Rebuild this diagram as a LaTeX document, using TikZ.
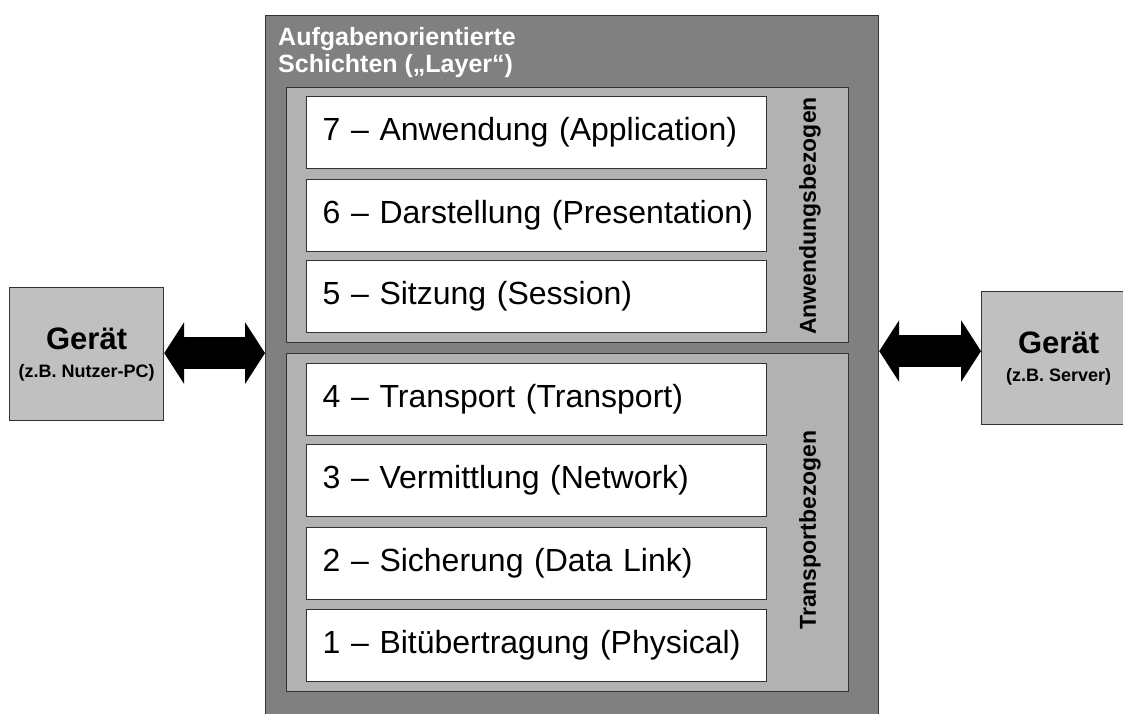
\documentclass[tikz,border=0pt]{standalone}
\usepackage{fontspec}
\setmainfont{Liberation Sans}
\usetikzlibrary{arrows.meta}

\definecolor{stackgray}{HTML}{808080}
\definecolor{groupgray}{HTML}{B2B2B2}
\definecolor{devicegray}{HTML}{C0C0C0}
\definecolor{edgegray}{HTML}{333333}

\tikzset{
  stackbox/.style={draw=edgegray, line width=1.2pt, fill=stackgray, anchor=north west,
    minimum width=613pt, minimum height=720pt, inner sep=0pt},
  groupbox/.style={draw=edgegray, line width=1.2pt, fill=groupgray, anchor=north west,
    minimum width=562pt, inner sep=0pt},
  layerbox/.style={draw=edgegray, line width=1.2pt, fill=white, anchor=north west,
    text width=428pt, align=left, inner xsep=16pt, inner ysep=0pt, minimum height=72pt,
    font=\fontsize{32}{38}\selectfont},
  devicebox/.style={draw=edgegray, line width=1.2pt, fill=devicegray, anchor=north west,
    minimum width=154pt, minimum height=133pt, inner sep=0pt, align=center,
    font=\bfseries\fontsize{31}{29}\selectfont},
  sidelabel/.style={rotate=90, inner sep=0pt, font=\bfseries\fontsize{23}{27}\selectfont},
  bigarrow/.style={line width=32pt, <->, >={Triangle[length=20pt,width=61pt]}}
}

\begin{document}
\begin{tikzpicture}[x=1pt,y=-1pt]
\useasboundingbox (0,0) rectangle (1123,713);

\node[stackbox] (stack) at (265,15) {};
\node[anchor=north west, inner sep=0pt, align=left, text=white,
  font=\bfseries\fontsize{25}{27}\selectfont] (title) at (278,27)
  {Aufgabenorientierte\\Schichten („Layer“)};

\node[groupbox, minimum height=255pt] (app) at (286,87) {};
\node[groupbox, minimum height=338pt] (transp) at (286,353) {};

\foreach \n/\y/\txt in {7/96/{7 -- Anwendung (Application)},
                        6/179/{6 -- Darstellung (Presentation)},
                        5/260/{5 -- Sitzung (Session)},
                        4/363/{4 -- Transport (Transport)},
                        3/444/{3 -- Vermittlung (Network)},
                        2/527/{2 -- Sicherung (Data Link)},
                        1/609/{1 -- Bitübertragung (Physical)}}
  \node[layerbox] (l\n) at (306,\y) {\mbox{\txt}};

\node[sidelabel] (applabel) at (810,216) {Anwendungsbezogen};
\node[sidelabel] (transplabel) at (810,530) {Transportbezogen};

\node[devicebox] (pc) at (9,287) {Gerät\\[-1pt]{\fontsize{18}{29}\selectfont (z.B. Nutzer-PC)}};
\node[devicebox] (server) at (981,291) {Gerät\\[-1pt]{\fontsize{18}{29}\selectfont (z.B. Server)}};

\draw[bigarrow] ([yshift=1pt]pc.east) -- ([yshift=1pt]pc.east -| stack.west);
\draw[bigarrow] ([yshift=7pt]server.west -| stack.east) -- ([yshift=7pt]server.west);
\end{tikzpicture}
\end{document}
